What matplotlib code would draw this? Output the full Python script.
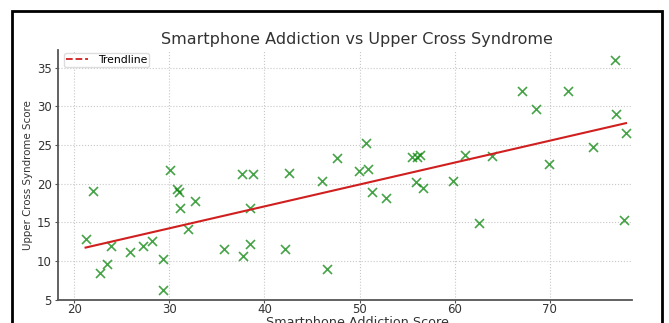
import numpy as np
import matplotlib
matplotlib.use("Agg")
import matplotlib.pyplot as plt
from matplotlib.lines import Line2D
from matplotlib.patches import Rectangle

# smartphone addiction score vs upper cross syndrome score, one entry per subject
addiction = [21.2, 22.0, 22.7, 23.4, 23.9, 25.9, 27.2, 28.2, 29.3, 29.3,
             30.1, 30.8, 31.0, 31.1, 32.0, 32.7, 35.7, 37.6, 37.7, 38.5,
             38.5, 38.8, 42.2, 42.6, 46.1, 46.6, 47.6, 49.9, 50.7, 50.9,
             51.3, 52.8, 55.5, 55.9, 56.0, 56.4, 56.7, 59.8, 61.1, 62.5,
             63.9, 67.1, 68.5, 69.9, 71.9, 74.5, 76.8, 76.9, 77.8, 78.0]
ucs_score = [12.9, 19.0, 8.5, 9.6, 11.9, 11.2, 12.0, 12.6, 10.2, 6.3,
             21.8, 19.3, 18.9, 16.8, 14.2, 17.8, 11.5, 21.2, 10.6, 16.9,
             12.2, 21.2, 11.5, 21.4, 20.4, 8.9, 23.3, 21.6, 25.3, 21.9,
             18.9, 18.1, 23.4, 20.2, 23.5, 23.7, 19.5, 20.4, 23.7, 14.9,
             23.6, 32.0, 29.7, 22.6, 32.0, 24.8, 36.0, 29.0, 15.3, 26.6]

x = np.array(addiction)
y = np.array(ucs_score)
slope, intercept = np.polyfit(x, y, 1)
x_fit = np.array([x.min(), x.max()])
y_fit = slope * x_fit + intercept

W, H = 669, 323
fig = plt.figure(figsize=(W / 100, H / 100), dpi=100)
fig.patch.set_facecolor("white")
ax = fig.add_axes([58 / W, 1 - 300 / H, (631.7 - 58) / W, (300 - 50) / H])

ax.scatter(x, y, marker="x", s=42, color="green", alpha=0.72, linewidths=1.2, zorder=3)
ax.plot(x_fit, y_fit, color="#d01f1f", lw=1.5, zorder=4)

ax.set_xlim(18.3, 78.6)
ax.set_ylim(4.95, 37.3)
ax.set_xticks(range(20, 80, 10))
ax.set_yticks(range(5, 40, 5))
ax.grid(True, linestyle=":", color="#c8c8c8", lw=0.8)
ax.set_axisbelow(True)
for side in ("top", "right"):
    ax.spines[side].set_visible(False)
for side in ("left", "bottom"):
    ax.spines[side].set_color("#555555")
    ax.spines[side].set_linewidth(1.3)
ax.tick_params(length=2.5, width=0.8, color="#555555", labelsize=8.5,
               labelcolor="#333333", pad=2)
ax.tick_params(axis="x", length=2, pad=0.3)

ax.set_ylabel("Upper Cross Syndrome Score", fontsize=7.4, color="#333333", labelpad=3)

handle = Line2D([], [], color="#d01f1f", lw=1.3, linestyle="--")
ax.legend([handle], ["Trendline"], loc="upper left", fontsize=7.8,
          bbox_to_anchor=(0.0105, 0.988), borderaxespad=0, borderpad=0.2,
          handlelength=2.0, handletextpad=0.9, framealpha=1,
          edgecolor="#dddddd", fancybox=True)

fig.text(357 / W, 1 - 44 / H, "Smartphone Addiction vs Upper Cross Syndrome",
         ha="center", va="baseline", fontsize=11.5, color="#333333")
fig.text(357 / W, 1 - 316 / H, "Smartphone Addiction Score",
         ha="center", va="top", fontsize=9.2, color="#333333")

# black frame around the figure, open at the bottom edge
fig.add_artist(Rectangle((12 / W, -0.2), (662 - 12) / W, 1.2 - 11 / H,
                         transform=fig.transFigure, fill=False,
                         edgecolor="black", lw=2.0, clip_on=False))

fig.savefig("out.png", dpi=100)
